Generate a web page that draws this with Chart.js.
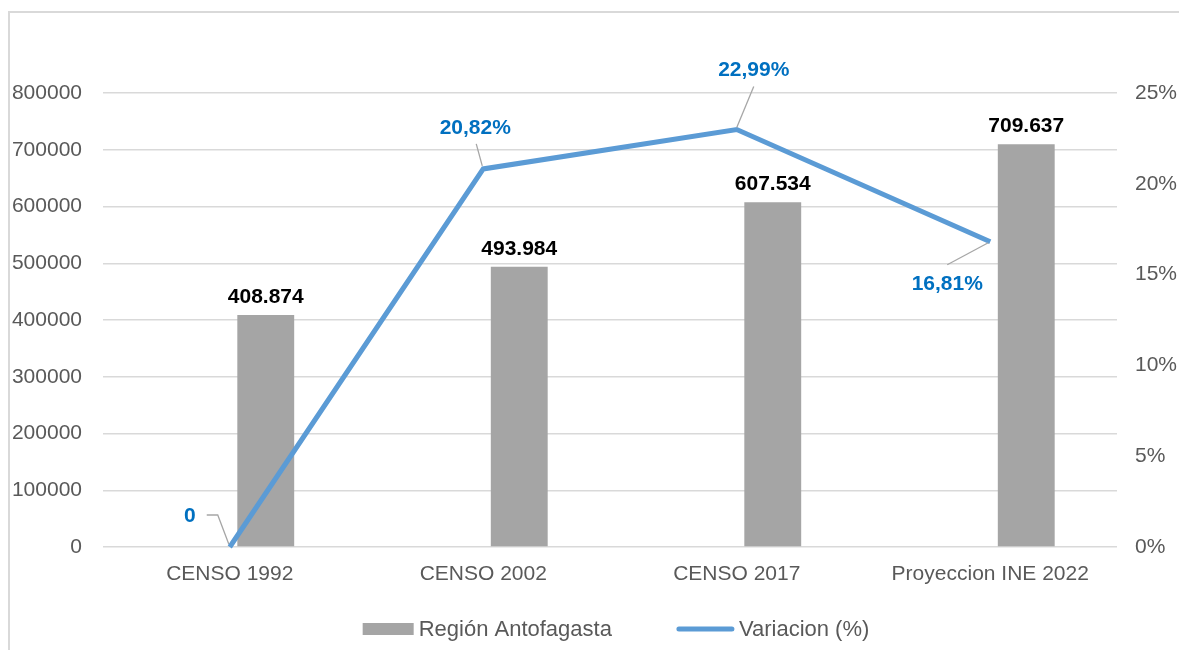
<!DOCTYPE html>
<html>
<head>
<meta charset="utf-8">
<script src="https://cdn.jsdelivr.net/npm/chart.js@4"></script>
<style>
  body { margin: 0; background: #fff; overflow: hidden; }
  .wrap { position: relative; width: 1179px; height: 650px; }
  .frame { position: absolute; left: 8px; top: 11px; width: 1300px; height: 800px; border: 2px solid #d9d9d9; box-sizing: border-box; }
  canvas { position: absolute; left: 0; top: 0; }
</style>
</head>
<body>
<div class="wrap">
  <div class="frame"></div>
  <canvas id="chart" width="1179" height="650"></canvas>
</div>
<script>
const categories = ["CENSO 1992", "CENSO 2002", "CENSO 2017", "Proyeccion INE 2022"];
const poblacion = [408874, 493984, 607534, 709637];
const variacion = [0, 20.82, 22.99, 16.81];
const leftTicks = [0, 100000, 200000, 300000, 400000, 500000, 600000, 700000, 800000];
const rightTicks = [0, 5, 10, 15, 20, 25];

// posicion de las etiquetas de la linea respecto al punto (texto y linea guia)
const lineLabelPos = [
  { dx: -40, dy: -31, guide: [[-23, -32], [-12, -32], [-1, -3]] },
  { dx: -8, dy: -41, guide: [[-7, -25], [-1, -3]] },
  { dx: 17, dy: -59, guide: [[17, -43], [0, -2]] },
  { dx: -43, dy: 42, guide: [[-43, 23], [-2, 1]] },
];

const barColor = "#a5a5a5";
const lineColor = "#5b9bd5";
const axisFont = { family: "Liberation Sans", size: 21 };

function miles(v) {
  return String(v).replace(/\B(?=(\d{3})+(?!\d))/g, ".");
}
function pct(v) {
  if (v === 0) return "0";
  return v.toFixed(2).replace(".", ",") + "%";
}

const labelsPlugin = {
  id: "labels",
  afterDatasetsDraw(chart) {
    const ctx = chart.ctx;
    ctx.save();
    // etiquetas de las barras
    const barMeta = chart.getDatasetMeta(2);
    ctx.font = "bold 21px 'Liberation Sans'";
    ctx.fillStyle = "#000";
    ctx.textAlign = "center";
    ctx.textBaseline = "alphabetic";
    barMeta.data.forEach((bar, i) => {
      ctx.fillText(miles(poblacion[i]), bar.x, bar.y - 12);
    });
    // etiquetas de la linea
    const lineMeta = chart.getDatasetMeta(0);
    lineMeta.data.forEach((pt, i) => {
      const p = lineLabelPos[i];
      ctx.strokeStyle = "#a6a6a6";
      ctx.lineWidth = 1.3;
      ctx.beginPath();
      p.guide.forEach((g, j) => {
        if (j === 0) ctx.moveTo(pt.x + g[0], pt.y + g[1]);
        else ctx.lineTo(pt.x + g[0], pt.y + g[1]);
      });
      ctx.stroke();
      ctx.fillStyle = "#0070c0";
      ctx.textBaseline = "middle";
      ctx.fillText(pct(variacion[i]), pt.x + p.dx, pt.y + p.dy);
    });
    ctx.restore();
  },
  afterDraw(chart) {
    // leyenda
    const ctx = chart.ctx;
    const items = [
      { text: chart.data.datasets[2].label, type: "rect", color: barColor, w: 51 },
      { text: chart.data.datasets[0].label, type: "line", color: lineColor, w: 57 },
    ];
    ctx.save();
    ctx.font = "22px 'Liberation Sans'";
    const gap = 5, between = 65;
    let total = 0;
    items.forEach((it, i) => {
      it.tw = ctx.measureText(it.text).width;
      total += it.w + gap + it.tw + (i > 0 ? between : 0);
    });
    let x = 616 - total / 2;
    const y = 629;
    items.forEach((it) => {
      if (it.type === "rect") {
        ctx.fillStyle = it.color;
        ctx.fillRect(x, y - 6, it.w, 12);
      } else {
        ctx.strokeStyle = it.color;
        ctx.lineWidth = 5;
        ctx.lineCap = "round";
        ctx.beginPath();
        ctx.moveTo(x + 2, y);
        ctx.lineTo(x + it.w - 2, y);
        ctx.stroke();
      }
      ctx.fillStyle = "#595959";
      ctx.textAlign = "left";
      ctx.textBaseline = "middle";
      ctx.fillText(it.text, x + it.w + gap, y + 1);
      x += it.w + gap + it.tw + between;
    });
    ctx.restore();
  },
};

new Chart(document.getElementById("chart"), {
  type: "bar",
  data: {
    labels: categories,
    datasets: [
      {
        type: "line",
        label: "Variacion (%)",
        data: variacion,
        yAxisID: "y2",
        borderColor: lineColor,
        backgroundColor: lineColor,
        borderWidth: 5,
        pointRadius: 0,
        tension: 0,
        clip: false,
        order: 0,
      },
      {
        // serie vacia para desplazar las barras a la derecha como en el original
        label: "",
        data: [null, null, null, null],
        yAxisID: "y",
        order: 1,
        categoryPercentage: 0.568,
        barPercentage: 0.79,
      },
      {
        label: "Región Antofagasta",
        data: poblacion,
        yAxisID: "y",
        backgroundColor: barColor,
        order: 1,
        categoryPercentage: 0.568,
        barPercentage: 0.79,
      },
    ],
  },
  options: {
    responsive: false,
    animation: false,
    layout: { padding: { top: 93, bottom: 53, left: 0, right: 0 } },
    plugins: {
      legend: { display: false },
      tooltip: { enabled: false },
    },
    scales: {
      x: {
        grid: { display: false, drawTicks: false },
        border: { display: false },
        ticks: { color: "#595959", font: axisFont, padding: 15, maxRotation: 0 },
        afterFit(scale) { scale.height = 50; },
      },
      y: {
        position: "left",
        min: 0,
        max: 800000,
        afterBuildTicks(scale) { scale.ticks = leftTicks.map((v) => ({ value: v })); },
        grid: { color: "#d9d9d9", lineWidth: 1.5, drawTicks: false },
        border: { display: false },
        ticks: { color: "#595959", font: axisFont, padding: 21, callback: (v) => String(v) },
        afterFit(scale) { scale.width = 103; },
      },
      y2: {
        position: "right",
        min: 0,
        max: 25,
        afterBuildTicks(scale) { scale.ticks = rightTicks.map((v) => ({ value: v })); },
        grid: { display: false, drawTicks: false },
        border: { display: false },
        ticks: { color: "#595959", font: axisFont, padding: 18, callback: (v) => v + "%" },
        afterFit(scale) { scale.width = 62; },
      },
    },
  },
  plugins: [labelsPlugin],
});
</script>
</body>
</html>
